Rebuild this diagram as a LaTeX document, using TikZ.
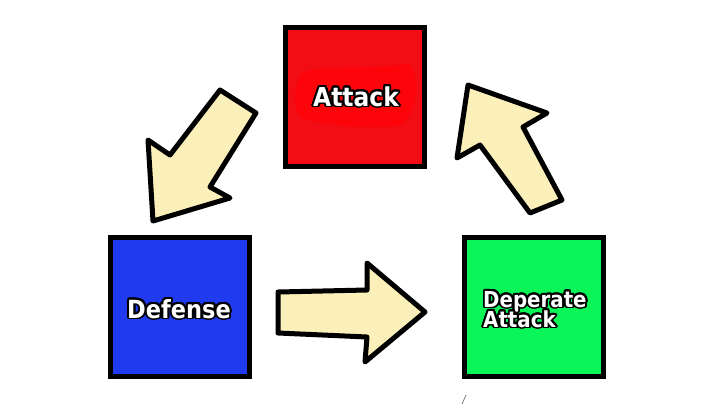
\documentclass[tikz,border=0pt]{standalone}
\usepackage{fontspec}
\setmainfont{DejaVu Sans}
\newfontfamily\lblfont{DejaVu Sans Condensed}
\usepackage{contour}
\contourlength{1.9pt}
\contournumber{24}
\definecolor{sqred}{RGB}{242,12,20}
\definecolor{blobred}{RGB}{252,4,10}
\definecolor{sqblue}{RGB}{32,58,240}
\definecolor{sqgreen}{RGB}{10,245,88}
\definecolor{arrowfill}{RGB}{251,240,186}
\tikzset{
  sq/.style={draw=black, line width=5pt, minimum size=139pt, inner sep=0pt},
  blockarrow/.style={draw=black, fill=arrowfill, line width=5pt, line join=round},
  lbl/.style={text=white, inner sep=0pt, anchor=base west}
}
\begin{document}
\begin{tikzpicture}[x=1pt,y=-1pt]
\useasboundingbox[fill=white] (0,0) rectangle (720,405);
% squares
\node[sq, fill=sqred] (attack) at (355,97) {};
\fill[blobred] (298,82) .. controls (300,60) and (350,72) .. (408,64)
  .. controls (422,72) and (418,118) .. (398,126)
  .. controls (360,130) and (320,124) .. (302,118)
  .. controls (292,108) and (294,92) .. (298,82) -- cycle;
\node[sq, fill=sqblue] (defense) at (179.5,306.5) {};
\node[sq, fill=sqgreen] (desp) at (534,306.5) {};
% labels
\node[lbl, font=\lblfont\bfseries\fontsize{26}{26}\selectfont] (attackT) at (313,106) {\contour{black}{Attack}};
\node[lbl, font=\lblfont\bfseries\fontsize{25}{25}\selectfont] (defenseT) at (127,318) {\contour{black}{Defense}};
\node[lbl, font=\lblfont\bfseries\fontsize{22}{22}\selectfont] (despT) at (483,307) {\contour{black}{Deperate}};
\node[lbl, font=\lblfont\bfseries\fontsize{22}{22}\selectfont] (desp2T) at (483,327) {\contour{black}{Attack}};
% arrows
\draw[blockarrow] (220,90) -- (256,113) -- (210,187) -- (230,198) -- (153,221) -- (148,140) -- (170,155) -- cycle;
\draw[blockarrow] (468,85) -- (547,113) -- (523,127) -- (562,200) -- (530,213) -- (480,145) -- (457,158) -- cycle;
\draw[blockarrow] (278,292) -- (367,290) -- (367,263) -- (425,312) -- (365,362) -- (367,337) -- (278,333) -- cycle;
% stray mark
\draw[gray, line width=0.8pt] (466,395) -- (462,404);
\end{tikzpicture}
\end{document}
